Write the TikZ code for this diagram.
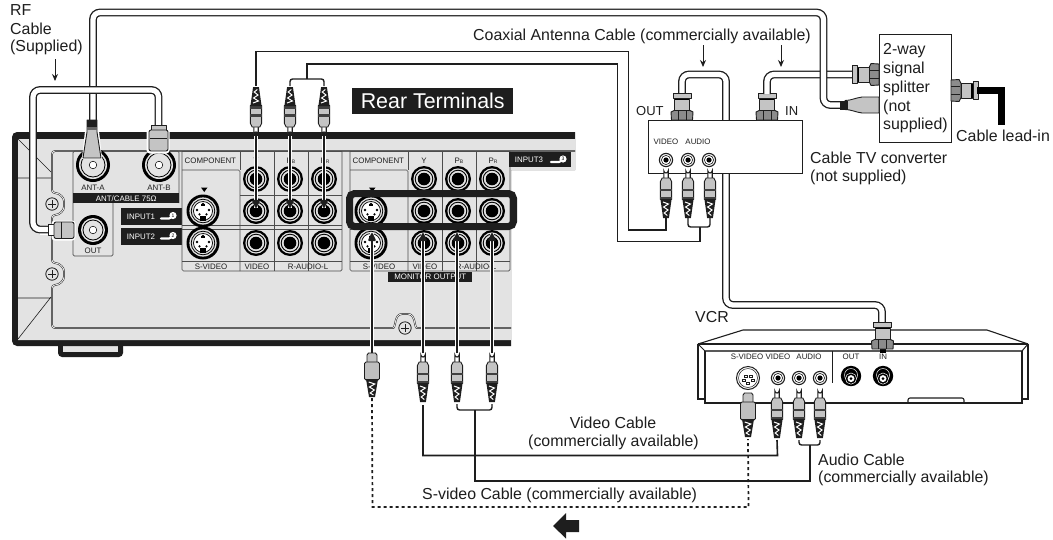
\documentclass[tikz,border=0pt]{standalone}
\usepackage{fontspec}
\setmainfont{Liberation Sans}
\usetikzlibrary{arrows.meta}
\definecolor{panelgray}{HTML}{E3E3E3}
\definecolor{plugray}{HTML}{C4C4C4}
\definecolor{ink}{HTML}{1E1E1E}
\newcommand{\lbl}{\fontsize{15.9}{18}\selectfont}
\newcommand{\pnl}{\fontsize{7.9}{9}\selectfont}
\newcommand{\xtiny}{\fontsize{5}{6}\selectfont}
\tikzset{
  x=1pt,y=-1pt,
  cable/.style={double=white,draw=ink,line width=1.3pt,double distance=5.2pt,rounded corners=7pt},
  wire/.style={draw=ink,line width=1.6pt,line join=miter},
  wirethin/.style={draw=ink,line width=1.4pt,rounded corners=2.5pt},
  dotwire/.style={draw=ink,line width=1.7pt,dash pattern=on 3pt off 3pt},
  inner/.style={draw=ink,line width=.45pt,double=panelgray,double distance=.9pt},
  grid/.style={draw=black!70,line width=.7pt,rounded corners=1.5pt},
  caption/.style={font=\lbl,text=ink,inner sep=0pt,anchor=west},
  small/.style={font=\pnl,text=ink,inner sep=0pt},
  strip/.style={fill=ink,text=white,font=\pnl,inner sep=0pt},
  thinarrow/.style={draw=ink,line width=1pt,-{Stealth[length=7pt,width=6pt]}},
  plugbody/.style={fill=plugray,draw=ink,line width=.9pt,line join=round},
  rcajack/.pic={
    \fill[black] (0,0) circle[radius=13];
    \fill[panelgray] (0,0) circle[radius=10.6];
    \draw[black,line width=.9pt] (0,0) circle[radius=8.8];
    \fill[black] (0,0) circle[radius=6.3];
  },
  smalljack/.pic={
    \draw[ink,line width=1.1pt,fill=white] (0,0) circle[radius=6.6];
    \draw[ink,line width=.6pt] (0,0) circle[radius=4.6];
    \fill[black] (0,0) circle[radius=2.6];
  },
  blackjack/.pic={
    \fill[black] (0,0) circle[radius=10.2];
    \draw[white,line width=.5pt] (0,-1) circle[radius=6.5];
    \draw[white,line width=.5pt,fill=black] (0,2.6) circle[radius=5.6];
    \fill[white] (0,2.6) circle[radius=3.5];
    \fill[black] (0,2.6) circle[radius=1.5];
  },
  svjack/.pic={
    \fill[black] (0,0) circle[radius=16.5];
    \fill[panelgray] (0,0) circle[radius=13.6];
    \draw[black,line width=.8pt] (0,0) circle[radius=11.8];
    \fill[white] (0,0) circle[radius=9.5];
    \draw[black,line width=.7pt] (0,0) circle[radius=9.5];
    \fill[black] (-3,5) rectangle (3,9.5);
    \fill[black] (0,-7) circle[radius=1.3] (-6,-1) circle[radius=1.4] (6,-1) circle[radius=1.4] (-3.5,3.4) circle[radius=1.2] (3.5,3.4) circle[radius=1.2];
    \fill[black] (-2.2,-4.6) rectangle (2.2,-7);
  },
  fconn/.pic={
    \draw[plugbody,fill=black!45] (-10.5,0) -- (-11,-8) -- (-7,-10) -- (7,-10) -- (11,-8) -- (10.5,0) -- cycle;
    \draw[ink,line width=.7pt] (-4,0) -- (-4,-9) (4,0) -- (4,-9);
    \draw[plugbody] (-7.5,-10) rectangle (7.5,-21);
    \fill[black] (-7,-20) rectangle (7,-22);
    \draw[plugbody] (-9,-22) rectangle (9,-27);
  },
  rcaplug/.pic={
    \draw[ink,line width=1.1pt,fill=white] (-2.2,10) -- (-2.2,1.8) arc[start angle=180,end angle=0,radius=2.2] -- (2.2,10) -- cycle;
    \draw[plugbody] (-3.8,9) -- (-5.6,12.5) -- (-5.6,30.5) -- (5.6,30.5) -- (5.6,12.5) -- (3.8,9) -- cycle;
    \fill[black!75] (-5.6,19.5) rectangle (5.6,21.8);
    \fill[black!75] (-5.6,27.5) rectangle (5.6,30.5);
    \fill[ink] (-5.6,30) -- (-2.9,49) -- (2.9,49) -- (5.6,30) -- cycle;
    \draw[white,line width=1pt] (-3,33) -- (2.4,35) -- (-2.4,38) -- (2,41) -- (-1.8,44) -- (1.3,46.5);
  },
  svplug/.pic={
    \draw[plugbody] (-5,11) -- (-5,2) -- (-3.5,0) -- (3.5,0) -- (5,2) -- (5,11) -- cycle;
    \draw[plugbody,fill=black!25,rounded corners=1.5pt] (-7.5,9) rectangle (7.5,27);
    \fill[ink] (-6,26) -- (-3,44) -- (3,44) -- (6,26) -- cycle;
    \draw[white,line width=1pt] (-3.3,29) -- (2.8,31) -- (-2.6,34) -- (2.3,37) -- (-1.8,40) -- (1.5,42);
  },
  inputmark/.pic={
    \draw[white,line width=2.2pt,line cap=round] (-9,1.5) -- (-1,1.5) -- (2,0);
    \fill[white] (3,-1.5) circle[radius=3.6];
    \node[inner sep=0pt,text=black,font=\xtiny] at (3,-1.5) {#1};
  },
  screw/.pic={
    \draw[ink,line width=.8pt,fill=panelgray] (0,0) circle[radius=6.2];
    \draw[ink,line width=1pt] (-4,0) -- (4,0) (0,-4) -- (0,4);
  },
}
\newcommand{\haloarrow}[2]{%
  \draw[white,line width=4.8pt] (#1) -- (#2);
  \draw[ink,line width=2.4pt,-{Latex[length=11pt,width=9.5pt,round]}] (#1) -- (#2);
}
\begin{document}
\begin{tikzpicture}
\useasboundingbox (0,0) rectangle (1053,539);
\fill[white] (0,0) rectangle (1053,539);

% --- TV rear panel
\fill[ink] (58,344) [rounded corners=4pt] -- (58,357) -- (123,357) [sharp corners] -- (123,344) -- cycle;
\fill[panelgray] (63,344) rectangle (118,352);
\fill[ink] (575,132) [rounded corners=5pt] -- (12,132) -- (12,346) [sharp corners] -- (511,346) -- (511,170) -- (575,170) -- cycle;
\fill[panelgray] (18,139) -- (575,139) -- (575,170) -- (511,170) -- (511,340) -- (18,340) -- cycle;
\draw[inner,rounded corners=3pt] (575,151) -- (52,151) -- (52,193) .. controls (60,193) and (64,198) .. (64,204) .. controls (64,210) and (60,215) .. (52,215) -- (52,263) .. controls (60,263) and (64,268) .. (64,274) .. controls (64,280) and (60,285) .. (52,285) -- (52,328) -- (390,328) .. controls (396,328) and (394,314) .. (405,314) .. controls (416,314) and (414,328) .. (420,328) -- (511,328);
\draw[draw=ink,line width=.6pt] (18,139) -- (51,172) (18,178) -- (51,178) (18,339) -- (51,297) (18,298) -- (51,298);
\pic at (52,204) {screw};
\pic at (52,274) {screw};
\pic at (405,328) {screw};

% ANT panel
\draw[grid] (73,203) -- (73,151) -- (179,151) -- (179,203);
\draw[grid] (73,203) -- (73,256) -- (113,256) -- (113,203);
\node[strip,minimum width=106pt,minimum height=10pt,anchor=north west] (antstrip) at (73,193) {ANT/CABLE 75Ω};
\foreach \n/\x/\y/\r in {anta/93/165/17,antb/159/165/17,antout/93/230/15}{
  \fill[black] (\x,\y) circle[radius=\r];
  \fill[panelgray] (\x,\y) circle[radius=\r-3];
  \draw[black,line width=.8pt] (\x,\y) circle[radius=\r-5];
  \draw[black,line width=.5pt,fill=white] (\x,\y) circle[radius=3.8];
  \coordinate (\n) at (\x,\y);
}
\node[small] (tanta) at (93,188) {ANT-A};
\node[small] (tantb) at (159,188) {ANT-B};
\node[small] (tout) at (93,251) {OUT};

% component panels
\node[strip,minimum width=61pt,minimum height=17pt,anchor=north west] (in1) at (121,208) {};
\node[strip,minimum width=61pt,minimum height=17pt,anchor=north west] (in2) at (121,228) {};
\node[font=\pnl,text=white,inner sep=0pt] (tin1) at (141,216.5) {INPUT1};
\node[font=\pnl,text=white,inner sep=0pt] (tin2) at (141,236.5) {INPUT2};
\pic at (170,217) {inputmark=1};
\pic at (170,237) {inputmark=2};
\foreach \l in {182,350}{
  \begin{scope}[shift={(\l,0)}]
  \draw[grid] (0,151) -- (0,271) -- (160,271) -- (160,151);
  \draw[grid] (0,151) -- (160,151);
  \draw[grid] (0,170) -- (58,170) -- (58,271);
  \draw[grid] (92,151) -- (92,271) (126,151) -- (126,271);
  \draw[grid] (58,151) -- (58,170);
  \draw[grid] (58,195.5) -- (160,195.5);
  \draw[grid] (0,225) -- (160,225) (0,229) -- (160,229);
  \draw[grid] (0,261) -- (160,261);
  \end{scope}
}
\foreach \l/\m in {182/a,350/b}{
  \node[small,anchor=west] (comp\m) at (\l+2.5,161) {COMPONENT};
  \node[small] (sv\m) at (\l+29,266.5) {S-VIDEO};
  \node[small] (vd\m) at (\l+75,266.5) {VIDEO};
  \node[small] (au\m) at (\l+126,266.5) {R-AUDIO-L};
  \node[small] (y\m) at (\l+74,161) {Y};
  \node[small] (pb\m) at (\l+109,161) {P{\xtiny B}};
  \node[small] (pr\m) at (\l+143,161) {P{\xtiny R}};
  \fill[black] (\l+19,187.5) -- (\l+25.5,187.5) -- (\l+22.25,192) -- cycle;
}
\foreach \x in {256,290,324,424,458,492}{
  \pic at (\x,179) {rcajack};
  \pic at (\x,211) {rcajack};
  \pic at (\x,243) {rcajack};
}
\foreach \x in {203,371}{
  \pic at (\x,211) {svjack};
  \pic at (\x,243) {svjack};
}
\node[strip,minimum width=84pt,minimum height=9.5pt,anchor=north west] (monout) at (388,272) {MONITOR OUTPUT};
\node[strip,minimum width=62pt,minimum height=15pt,anchor=north west] (in3) at (509,152) {};
\node[font=\pnl,text=white,inner sep=0pt] (tin3) at (529,160) {INPUT3};
\pic at (560,160.5) {inputmark=3};
\draw[draw=ink,line width=7pt,rounded corners=5pt] (349.5,193.5) rectangle (513.5,226.5);

% --- coordinates of connector ends
\coordinate (tv1) at (256,208); \coordinate (tv2) at (290,208); \coordinate (tv3) at (324,208);
\coordinate (tp1) at (256,136); \coordinate (tp2) at (290,136); \coordinate (tp3) at (324,136);
\coordinate (mo0) at (372,233); \coordinate (mo1) at (423,233); \coordinate (mo2) at (457,233); \coordinate (mo3) at (492,233);
\coordinate (mp0) at (372,353); \coordinate (mp1) at (423,353); \coordinate (mp2) at (457,353); \coordinate (mp3) at (492,353);
\haloarrow{tp1}{tv1} \haloarrow{tp2}{tv2} \haloarrow{tp3}{tv3}
\haloarrow{mp0}{mo0} \haloarrow{mp1}{mo1} \haloarrow{mp2}{mo2} \haloarrow{mp3}{mo3}

% --- plugs on the TV
\pic[yscale=-1] at (256,136) {rcaplug};
\pic[yscale=-1] at (290,136) {rcaplug};
\pic[yscale=-1] at (324,136) {rcaplug};
\pic at (423,353) {rcaplug};
\pic at (457,353) {rcaplug};
\pic at (492,353) {rcaplug};
\pic at (372,353) {svplug};

% --- converter box behind cable
\coordinate (cvout) at (682,94);
\coordinate (vcrin) at (882,322);
\draw[cable] (cvout) -- (682,74.5) -- (726,74.5) -- (726,305) -- (882,305) -- (vcrin);
\node[draw=ink,line width=1.1pt,fill=white,minimum width=154pt,minimum height=53pt,anchor=north west,inner sep=0pt] (conv) at (648,120) {};
\foreach \n/\x in {cj1/666,cj2/688,cj3/709}{
  \pic at (\x,160) {smalljack};
  \coordinate (\n) at (\x,170);
}
\node[small] (tv) at (666,142) {VIDEO};
\node[small] (ta) at (698,142) {AUDIO};
\pic at (682,120) {fconn};
\pic at (767,120) {fconn};
\pic at (666,169) {rcaplug};
\pic at (688,169) {rcaplug};
\pic at (710,169) {rcaplug};

% --- RCA wires, upper pair
\coordinate (wa) at (256,86); \coordinate (wb1) at (290,86); \coordinate (wb2) at (324,86);
\coordinate (wc) at (666,218); \coordinate (wd1) at (688,218); \coordinate (wd2) at (710,218);
\draw[wire] (wa) -- (256,51.5) -- (628.5,51.5) -- (628.5,230) -- (666,230) -- (wc);
\draw[wirethin] (wb1) -- (290,79) -- (324,79) -- (wb2);
\draw[wirethin] (wd1) -- (688,227) -- (710,227) -- (wd2);
\draw[wire] (307,79) -- (307,64) -- (617.5,64) -- (617.5,241.5) -- (700,241.5) -- (700,227);

% --- splitter
\node[draw=ink,line width=1.1pt,fill=white,minimum width=72pt,minimum height=108pt,anchor=north west,inner sep=0pt] (split) at (879,34) {};
\foreach \n/\y/\t in {s1/51/2-way,s2/69.5/signal,s3/88/splitter,s4/107/(not,s5/125/supplied)}{
  \node[caption] (\n) at (883,\y) {\t};
}
\coordinate (cvin) at (767,94);
\coordinate (spa) at (856,74.5);
\draw[cable] (cvin) -- (767,74.5) -- (spa);
\pic[rotate=90] at (879,74.5) {fconn};
\coordinate (rfa) at (93,122);
\coordinate (spb) at (842,105);
\draw[cable] (rfa) -- (93,12.5) -- (823.5,12.5) -- (823.5,105) -- (spb);
% RF plug at splitter
\draw[plugbody] (879,97) -- (862,97) .. controls (855,98) and (851,100.5) .. (845,100.5) -- (845,109.5) .. controls (851,109.5) and (855,112) .. (862,113) -- (879,113) -- cycle;
\fill[ink] (840,100.5) rectangle (848,109.5);
% lead-in
\pic[rotate=-90] at (951,90.5) {fconn};
\coordinate (leadend) at (1001,125);
\draw[draw=black,line width=7pt] (977,90.5) -- (1001,90.5) -- (leadend);

% --- RF supplied loop
\coordinate (rfb) at (158.5,126);
\coordinate (rfc) at (50,229.5);
\draw[white,line width=10pt] (rfc) -- (40,229.5);
\draw[cable] (rfb) -- (158.5,90) -- (33,90) -- (33,229.5) -- (rfc);
% ANT-A plug
\draw[white,line width=2pt,fill=plugray] (87,122) -- (97,122) -- (101,158) -- (83,158) -- cycle;
\draw[plugbody] (87,120) -- (97,120) -- (97,132) -- (101,158) -- (85,158) -- (83,158) -- (87,132) -- cycle;
\fill[ink] (87,120) rectangle (97,127);
\fill[black!60] (87,127) rectangle (97,130);
% ANT-B plug
\draw[white,line width=3pt,rounded corners=2pt] (148,130) rectangle (168,152);
\draw[plugbody] (151,125) rectangle (166,132);
\draw[plugbody,rounded corners=2pt] (149,130) rectangle (168,151);
\draw[ink,line width=.8pt] (150,138) -- (167,138);
% OUT plug
\draw[white,line width=3pt,rounded corners=2pt] (53,222) rectangle (74,239);
\draw[plugbody,fill=white] (48.5,224.5) rectangle (54,235);
\draw[plugbody,rounded corners=2pt] (54,222) rectangle (74,238.5);
\draw[ink,line width=1.2pt] (61.5,222) -- (61.5,238.5);

% --- VCR
\draw[draw=ink,line width=1.1pt,line join=round] (698,344) -- (743,330) -- (987,330) -- (1028,344);
\draw[draw=ink,line width=1.1pt] (698,344) -- (1028,344);
\draw[draw=ink,line width=1.1pt,line join=miter] (698,344) -- (698,399) -- (705,399);
\draw[draw=ink,line width=1.1pt,line join=miter] (1028,344) -- (1028,399) -- (1022,399);
\draw[draw=ink,line width=1pt] (698,344) -- (705,351) (1028,344) -- (1022,351);
\draw[draw=black!65,line width=1.4pt] (705,351) -- (1022,351);
\draw[draw=ink,line width=1.1pt] (705,351) -- (705,403) -- (1022,403) -- (1022,351);
\draw[draw=ink,line width=1.1pt,rounded corners=2pt] (908,403) -- (908,398) -- (964,398) -- (964,403);
\draw[draw=ink,line width=1pt] (832,351) -- (832,383);
\node[small] (vs) at (747,357) {S-VIDEO};
\node[small] (vv) at (778,357) {VIDEO};
\node[small] (va) at (809,357) {AUDIO};
\node[small] (vo) at (851,357) {OUT};
\node[small] (vi) at (883,357) {IN};
\draw[draw=ink,line width=1pt,fill=white] (748,378) circle[radius=11.5];
\draw[draw=ink,line width=.5pt] (748,378) circle[radius=9.5];
\foreach \a/\b in {-4/-3,1.5/-3,-6/1,3/1,-1.5/4}{\draw[draw=ink,line width=.5pt] (748+\a,378+\b) rectangle +(3,2);}
\foreach \x in {778,799,820}{\pic at (\x,378) {smalljack};}
\pic at (851,376) {blackjack};
\pic at (883,376) {blackjack};
\fill[black] (880,345) rectangle (886,353);
\pic at (882.5,349) {fconn};
\pic at (748,393) {svplug};
\pic at (777,389) {rcaplug};
\pic at (799,389) {rcaplug};
\pic at (820,389) {rcaplug};

% --- lower wires
\coordinate (la) at (423,405); \coordinate (lb1) at (457,404); \coordinate (lb2) at (492,404);
\coordinate (lc) at (777,440); \coordinate (ld1) at (799,440); \coordinate (ld2) at (820,440);
\coordinate (le) at (372,398); \coordinate (lf) at (748,439);
\draw[wire] (la) -- (423,455.5) -- (777.5,455.5) -- (lc);
\draw[wirethin] (lb1) -- (457,410) -- (492,410) -- (lb2);
\draw[wirethin] (ld1) -- (799,445) -- (820,445) -- (ld2);
\draw[wire] (475,410) -- (475,481) -- (810,481) -- (810,445);
\draw[dotwire] (le) -- (372.5,507) -- (748.5,507) -- (lf);

% --- block arrow
\fill[ink] (553,526) -- (566,513) -- (566,520) -- (579,520) -- (579,532) -- (566,532) -- (566,538.5) -- cycle;

% --- captions
\node[caption] (rf1) at (10,10) {RF};
\node[caption] (rf2) at (10,29) {Cable};
\node[caption] (rf3) at (10,47.5) {(Supplied)};
\coordinate (ra1) at (55,59); \coordinate (ra2) at (55,81);
\draw[thinarrow] (ra1) -- (ra2);
\node[fill=ink,text=white,inner sep=0pt,minimum width=161pt,minimum height=26pt,anchor=north west,font=\fontsize{21.4}{24}\selectfont] (rear) at (352,88) {Rear Terminals};
\node[caption] (coax) at (473,36) {Coaxial Antenna Cable (commercially available)};
\coordinate (ca1) at (703,45); \coordinate (ca2) at (703,67); \coordinate (cb1) at (781,45); \coordinate (cb2) at (781,67);
\draw[thinarrow] (ca1) -- (ca2);
\draw[thinarrow] (cb1) -- (cb2);
\node[caption,font=\fontsize{13}{15}\selectfont] (out) at (636,111.5) {OUT};
\node[caption,font=\fontsize{13}{15}\selectfont] (in) at (785,111.5) {IN};
\node[caption] (lead) at (956,136) {Cable lead-in};
\node[caption] (ctv1) at (810,158) {Cable TV converter};
\node[caption] (ctv2) at (810,177) {(not supplied)};
\node[caption] (vcr) at (695,317) {VCR};
\node[caption,anchor=center] (vid1) at (613,423) {Video Cable};
\node[caption,anchor=center] (vid2) at (613.5,442) {(commercially available)};
\node[caption] (aud1) at (818,460) {Audio Cable};
\node[caption] (aud2) at (818,478) {(commercially available)};
\node[caption] (svc) at (422,495) {S-video Cable (commercially available)};
\end{tikzpicture}
\end{document}
